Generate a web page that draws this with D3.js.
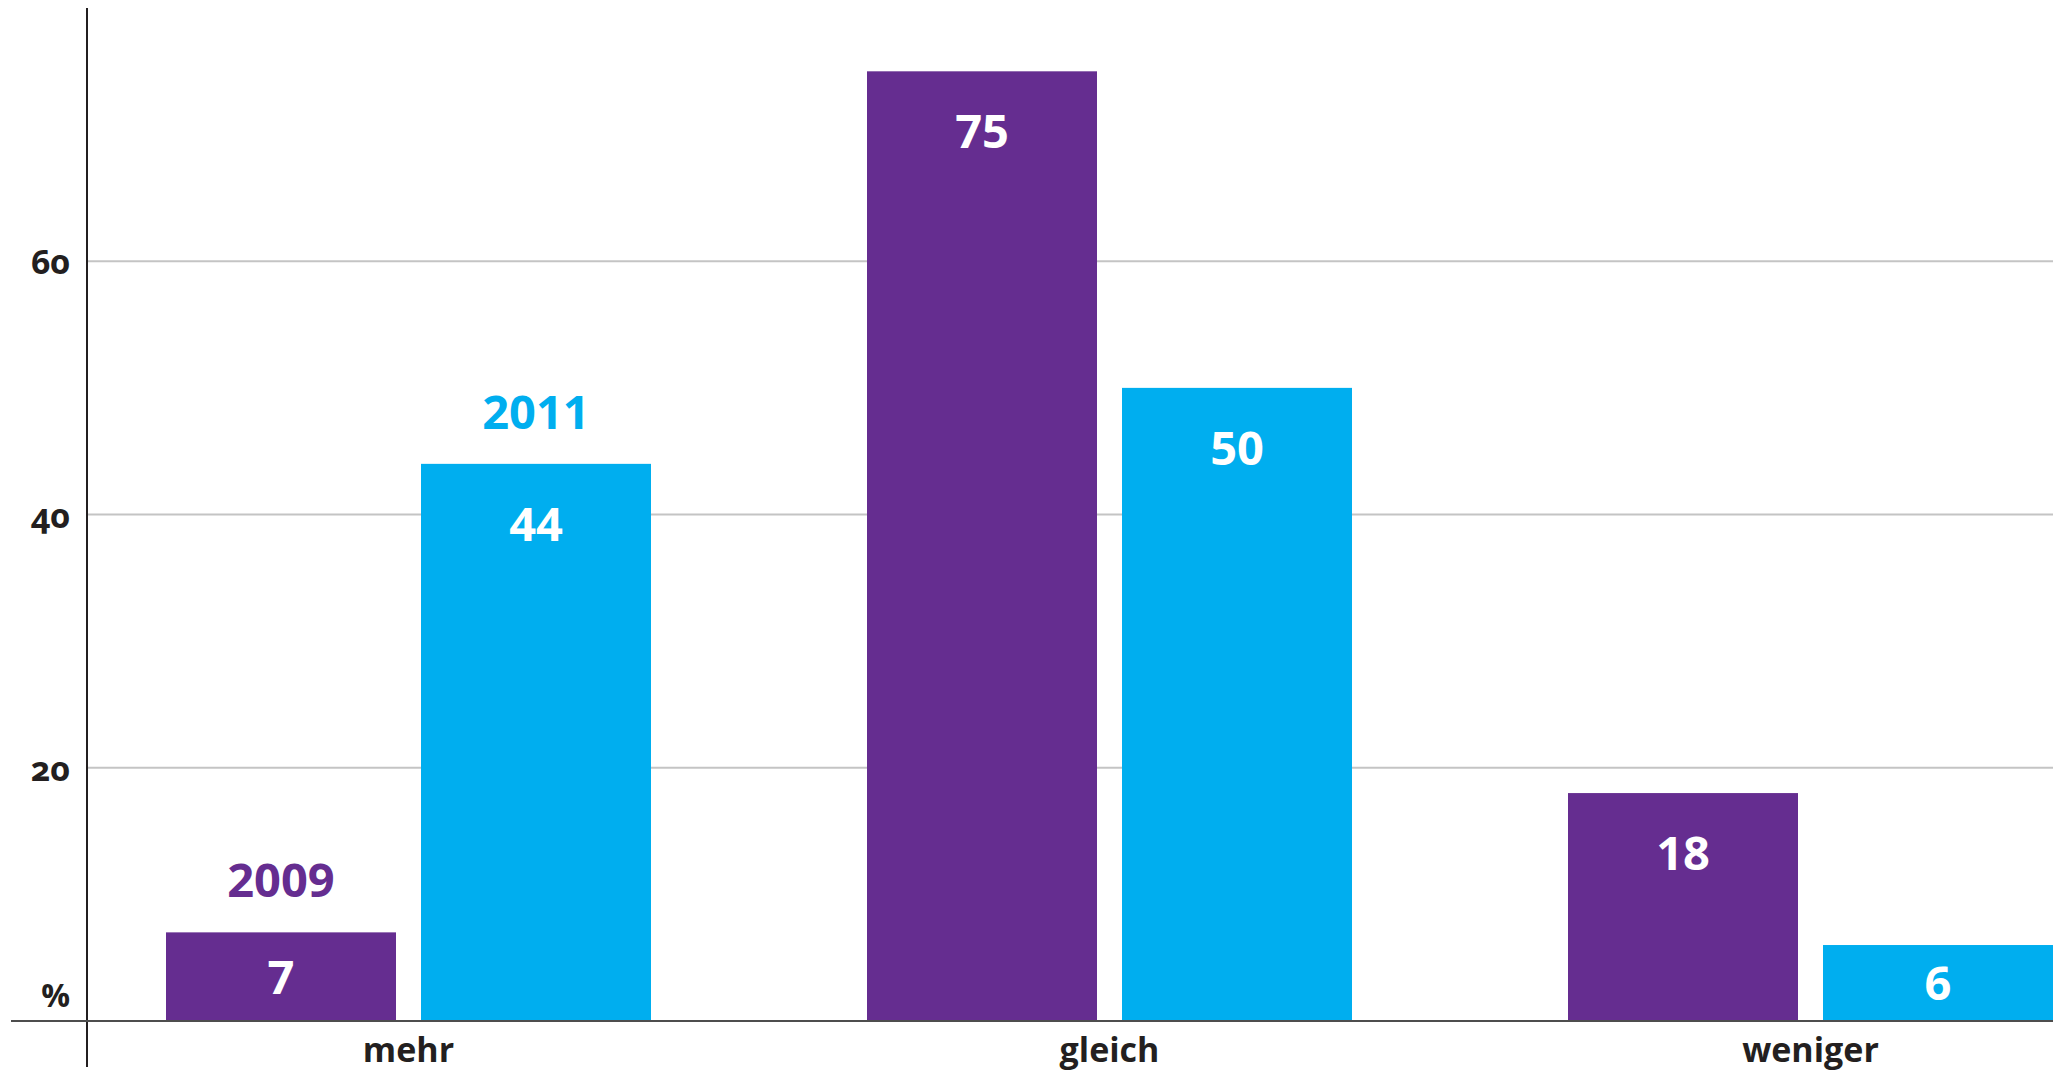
<!DOCTYPE html>
<html>
<head>
<meta charset="utf-8">
<script src="https://cdn.jsdelivr.net/npm/d3@7"></script>
<style>
    body { margin: 0; background: #fff; }
    svg text { font-family: "Open Sans", "Noto Sans", sans-serif; }
</style>
</head>
<body>
<div id="chart"></div>
<script>
// categories, years and values
let categories = ["mehr", "gleich", "weniger"]
let years = ["2009", "2011"]
let values2009 = [7, 75, 18]
let values2011 = [44, 50, 6]
let yTicks = [20, 40, 60]

let colors = { "2009": "#652d90", "2011": "#00aeef" }

let width = 2063,
    height = 1075

let svg = d3.select("#chart")
    .append("svg")
    .attr("width", width)
    .attr("height", height)

// y scale: 0 at the baseline, 80 at the top of the axis
let y = d3.scaleLinear()
    .domain([0, 80])
    .range([1021, 8])

// outer band for categories, inner band for years
let x0 = d3.scaleBand()
    .domain(categories)
    .range([166, 2053])
    .paddingInner(216 / 701)
    .paddingOuter(0)

let x1 = d3.scaleBand()
    .domain(years)
    .range([0, x0.bandwidth()])
    .paddingInner(25 / 255)

// gridlines
svg.append("g")
    .selectAll("line")
    .data(yTicks)
    .enter()
    .append("line")
    .attr("x1", 87)
    .attr("x2", 2053)
    .attr("y1", d => y(d))
    .attr("y2", d => y(d))
    .attr("stroke", "#c4c4c4")
    .attr("stroke-width", 2)

// tick labels (old style figures)
svg.append("g")
    .selectAll("text")
    .data(yTicks)
    .enter()
    .append("text")
    .attr("x", 70)
    .attr("y", d => y(d) + 13)
    .attr("text-anchor", "end")
    .style("font-size", "34px")
    .style("font-weight", 700)
    .style("font-variant-numeric", "oldstyle-nums")
    .style("fill", "#231f20")
    .text(d => d)

svg.append("text")
    .attr("x", 70)
    .attr("y", 1007)
    .attr("text-anchor", "end")
    .style("font-size", "32px")
    .style("font-weight", 700)
    .style("fill", "#231f20")
    .text("%")

// build rows for bars
let rows = categories.map((c, i) => ({
    cat: c,
    bars: [
        { year: "2009", value: values2009[i] },
        { year: "2011", value: values2011[i] }
    ]
}))

let groups = svg.append("g")
    .selectAll("g")
    .data(rows)
    .enter()
    .append("g")
    .attr("transform", d => "translate(" + x0(d.cat) + ",0)")

groups.selectAll("rect")
    .data(d => d.bars)
    .enter()
    .append("rect")
    .attr("x", d => x1(d.year))
    .attr("y", d => y(d.value))
    .attr("width", x1.bandwidth())
    .attr("height", d => y(0) - y(d.value))
    .style("fill", d => colors[d.year])

// value labels inside the bars
groups.selectAll(".val")
    .data(d => d.bars)
    .enter()
    .append("text")
    .attr("class", "val")
    .attr("x", d => x1(d.year) + x1.bandwidth() / 2)
    .attr("y", function (d) {
        let top = y(d.value)
        let mid = (top + y(0)) / 2
        return Math.min(top + 77, mid + 17)
    })
    .attr("text-anchor", "middle")
    .style("font-size", "47px")
    .style("font-weight", 700)
    .style("fill", "#fff")
    .text(d => d.value)

// year labels above the first group
svg.append("g")
    .selectAll("text")
    .data(rows[0].bars)
    .enter()
    .append("text")
    .attr("x", d => x0(categories[0]) + x1(d.year) + x1.bandwidth() / 2)
    .attr("y", d => y(d.value) - 35)
    .attr("text-anchor", "middle")
    .style("font-size", "47px")
    .style("font-weight", 700)
    .style("fill", d => colors[d.year])
    .text(d => d.year)

// axes lines
svg.append("line")
    .attr("x1", 87).attr("x2", 87)
    .attr("y1", 8).attr("y2", 1067)
    .attr("stroke", "#231f20")
    .attr("stroke-width", 2)

svg.append("line")
    .attr("x1", 11).attr("x2", 2053)
    .attr("y1", y(0)).attr("y2", y(0))
    .attr("stroke", "#4d4d4d")
    .attr("stroke-width", 2)

// category labels
svg.append("g")
    .selectAll("text")
    .data(categories)
    .enter()
    .append("text")
    .attr("x", d => x0(d) + x0.bandwidth() / 2)
    .attr("y", 1062)
    .attr("text-anchor", "middle")
    .style("font-size", "34px")
    .style("font-weight", 700)
    .style("fill", "#231f20")
    .text(d => d)
</script>
</body>
</html>
